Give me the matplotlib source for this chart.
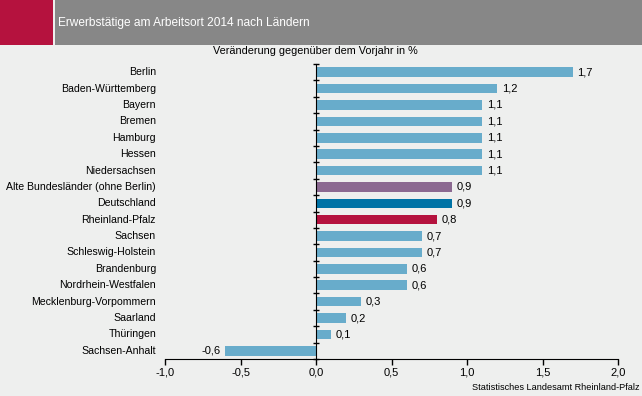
import matplotlib
matplotlib.use("Agg")
import matplotlib.pyplot as plt
import matplotlib.transforms as mtrans
import numpy as np

plt.rcParams['font.family'] = ['Liberation Sans', 'DejaVu Sans']

laender = ['Berlin', 'Baden-Württemberg', 'Bayern', 'Bremen', 'Hamburg', 'Hessen',
           'Niedersachsen', 'Alte Bundesländer (ohne Berlin)', 'Deutschland',
           'Rheinland-Pfalz', 'Sachsen', 'Schleswig-Holstein', 'Brandenburg',
           'Nordrhein-Westfalen', 'Mecklenburg-Vorpommern', 'Saarland', 'Thüringen',
           'Sachsen-Anhalt']
werte = [1.7, 1.2, 1.1, 1.1, 1.1, 1.1, 1.1, 0.9, 0.9, 0.8, 0.7, 0.7, 0.6, 0.6,
         0.3, 0.2, 0.1, -0.6]
xticks = [-1.0, -0.5, 0.0, 0.5, 1.0, 1.5, 2.0]

bg = '#EEEFEE'
blau = '#68ACCB'
sonder = {'Alte Bundesländer (ohne Berlin)': '#8B6991',
          'Deutschland': '#0073A6',
          'Rheinland-Pfalz': '#B5123E'}
farben = [sonder.get(l, blau) for l in laender]

W, H = 642, 396
fig = plt.figure(figsize=(W / 100, H / 100), dpi=100, facecolor=bg)

# Kopfzeile
fig.patches.append(plt.Rectangle((0, 1 - 45 / H), 53 / W, 45 / H, transform=fig.transFigure,
                                 facecolor='#B5123E', edgecolor='none'))
fig.patches.append(plt.Rectangle((55 / W, 1 - 45 / H), 1 - 55 / W, 45 / H, transform=fig.transFigure,
                                 facecolor='#878787', edgecolor='none'))
fig.text(58 / W, 1 - 23 / H, 'Erwerbstätige am Arbeitsort 2014 nach Ländern', color='white',
         fontsize=8.6, va='center', ha='left')

ax_l, ax_r = 165, 618
ax_t, ax_b = 64, 359
ax = fig.add_axes([ax_l / W, 1 - ax_b / H, (ax_r - ax_l) / W, (ax_b - ax_t) / H])
ax.set_facecolor(bg)

y = np.arange(len(laender))
ax.barh(y, werte, height=0.58, color=farben)
ax.set_xlim(-1.0, 2.0)
ax.set_ylim(len(laender) - 0.5, -0.5)

for yi, v in zip(y, werte):
    txt = ('%.1f' % v).replace('.', ',')
    if v >= 0:
        ax.text(v + 0.03, yi, txt, va='center', ha='left', fontsize=8)
    else:
        ax.text(v - 0.03, yi, txt, va='center', ha='right', fontsize=8)

# Laendernamen links
trans = mtrans.blended_transform_factory(fig.transFigure, ax.transData)
for yi, name in zip(y, laender):
    ax.text(156 / W, yi, name, transform=trans, ha='right', va='center', fontsize=7.6)

ax.set_yticks([])
ax.set_yticks(np.arange(-0.5, len(laender), 1.0), minor=True)
ax.tick_params(axis='y', which='minor', direction='inout', length=5, width=1, color='black',
               labelleft=False)

ax.set_xticks(xticks)
ax.set_xticklabels([('%.1f' % t).replace('.', ',') for t in xticks], fontsize=8)
ax.tick_params(axis='x', direction='out', length=4, width=1, color='black', pad=2)

for s in ['top', 'right']:
    ax.spines[s].set_visible(False)
ax.spines['left'].set_position(('data', 0))
ax.spines['left'].set_color('black')
ax.spines['bottom'].set_color('black')

fig.text(315 / W, 1 - 51 / H, 'Veränderung gegenüber dem Vorjahr in %', fontsize=7.8,
         ha='center', va='center')
fig.text(640 / W, 1 - 388 / H, 'Statistisches Landesamt Rheinland-Pfalz', fontsize=6.6,
         ha='right', va='center')

fig.savefig('out.png', dpi=100, facecolor=bg)
